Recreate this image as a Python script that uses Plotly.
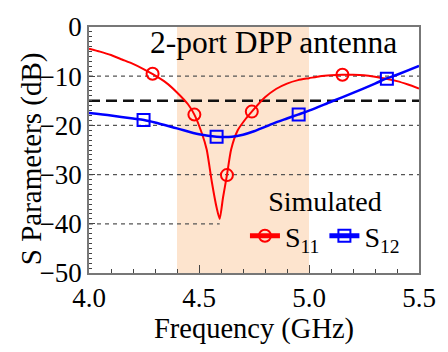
import plotly.graph_objects as go

# ---- data ----
s11_freq = [4.00, 4.05, 4.10, 4.15, 4.20, 4.25, 4.29, 4.35, 4.40, 4.45, 4.479, 4.513, 4.535,
            4.558, 4.58, 4.594, 4.609, 4.627, 4.646, 4.676, 4.71, 4.74, 4.80, 4.85, 4.90,
            4.95, 5.00, 5.05, 5.10, 5.15, 5.20, 5.25, 5.30, 5.35, 5.40, 5.45, 5.50]
s11_db = [-4.4, -5.0, -5.7, -6.6, -7.5, -8.6, -9.6, -11.3, -13.3, -15.7, -17.8, -21.6, -24.9,
          -31.4, -36.7, -39.0, -34.7, -30.1, -24.9, -21.0, -18.8, -17.2, -14.3, -12.6, -11.5,
          -10.8, -10.4, -10.0, -9.8, -9.7, -9.7, -9.8, -10.1, -10.5, -11.0, -11.7, -12.5]
s11_mk_freq = [4.289, 4.479, 4.627, 4.74, 5.152]
s11_mk_db = [-9.5, -17.8, -30.1, -17.2, -9.7]

s12_freq = [4.00, 4.10, 4.20, 4.25, 4.30, 4.40, 4.50, 4.58, 4.65, 4.70, 4.75, 4.80, 4.85,
            4.90, 4.95, 5.00, 5.10, 5.20, 5.30, 5.35, 5.40, 5.50]
s12_db = [-17.5, -18.0, -18.6, -18.9, -19.4, -20.6, -21.8, -22.3, -22.3, -21.9, -21.2, -20.3,
          -19.4, -18.6, -17.8, -17.0, -15.2, -13.4, -11.5, -10.5, -9.7, -7.9]
s12_mk_freq = [4.248, 4.58, 4.953, 5.354]
s12_mk_db = [-18.9, -22.3, -17.8, -10.5]

band = [4.4, 5.0]
grid_levels = [-10, -20, -30]
partial_grid = (-40, 4.594)
threshold = -15
x_ticks = [4.0, 4.5, 5.0, 5.5]
y_ticks = [0, -10, -20, -30, -40, -50]

FONT = "Liberation Serif, Times New Roman, serif"
RED = "#FF0000"
BLUE = "#0000FF"

fig = go.Figure()

fig.add_trace(go.Scatter(x=s11_freq, y=s11_db, mode="lines", line=dict(color=RED, width=2, shape="spline", smoothing=0.6),
                         showlegend=False, hoverinfo="skip"))
fig.add_trace(go.Scatter(x=s12_freq, y=s12_db, mode="lines", line=dict(color=BLUE, width=2.5, shape="spline", smoothing=0.8),
                         showlegend=False, hoverinfo="skip"))
fig.add_trace(go.Scatter(x=s11_mk_freq, y=s11_mk_db, mode="markers",
                         marker=dict(symbol="circle-open", size=12, color=RED, line=dict(width=2)),
                         showlegend=False))
fig.add_trace(go.Scatter(x=s12_mk_freq, y=s12_mk_db, mode="markers",
                         marker=dict(symbol="square-open", size=12, color=BLUE, line=dict(width=2)),
                         showlegend=False))
fig.add_trace(go.Scatter(x=[None], y=[None], mode="lines+markers", name="S<sub>11</sub>",
                         line=dict(color=RED, width=2),
                         marker=dict(symbol="circle-open", size=9, color=RED, line=dict(width=2))))
fig.add_trace(go.Scatter(x=[None], y=[None], mode="lines+markers", name="S<sub>12</sub>",
                         line=dict(color=BLUE, width=2.5),
                         marker=dict(symbol="square-open", size=9, color=BLUE, line=dict(width=2))))

shapes = [dict(type="rect", xref="x", yref="paper", x0=band[0], x1=band[1], y0=0, y1=1,
               fillcolor="#FDE4CE", line=dict(width=0), layer="below")]
for g in grid_levels:
    shapes.append(dict(type="line", xref="paper", yref="y", x0=0, x1=1, y0=g, y1=g,
                       line=dict(color="#555555", width=1.3, dash="4px,4px"), layer="below"))
shapes.append(dict(type="line", xref="x", yref="y", x0=4.0, x1=partial_grid[1], y0=partial_grid[0], y1=partial_grid[0],
                   line=dict(color="#555555", width=1.3, dash="4px,4px"), layer="below"))
shapes.append(dict(type="line", xref="paper", yref="y", x0=0, x1=1, y0=threshold, y1=threshold,
                   line=dict(color="#111111", width=2.5, dash="11px,6px"), layer="below"))

fig.update_layout(
    width=448, height=352,
    margin=dict(l=89, r=20, t=18, b=79),
    paper_bgcolor="white", plot_bgcolor="white",
    font=dict(family=FONT, color="black", size=27),
    shapes=shapes,
    annotations=[
        dict(text="2-port DPP antenna", x=4.840, y=-3.2, xref="x", yref="y",
             showarrow=False, font=dict(size=31.5, family=FONT)),
        dict(text="S Parameters (dB)", x=-0.174, y=0.465, xref="paper", yref="paper",
             xanchor="center", yanchor="middle", textangle=-90,
             showarrow=False, font=dict(size=29, family=FONT)),
    ],
    legend=dict(x=0.715, y=0.40, xanchor="center", yanchor="top", orientation="h",
                bgcolor="rgba(0,0,0,0)", font=dict(size=28, family=FONT),
                title=dict(text="Simulated", side="top center", font=dict(size=28, family=FONT)),
                itemwidth=30, tracegroupgap=0, itemsizing="constant"),
    xaxis=dict(range=[4.0, 5.5], tickvals=x_ticks, ticktext=[f"{v:.1f}" for v in x_ticks],
               ticks="inside", ticklen=8, tickwidth=1.3, tickcolor="#444",
               minor=dict(dtick=0.1, ticks="inside", ticklen=4, tickcolor="#444", tickwidth=1),
               showline=True, linecolor="#777", linewidth=1.5, mirror=True, showgrid=False,
               zeroline=False, tickfont=dict(size=27, family=FONT),
               title=dict(text="Frequency (GHz)", font=dict(size=28.5, family=FONT), standoff=4)),
    yaxis=dict(range=[-50, 0], tickvals=y_ticks, ticks="inside", ticklen=6, tickwidth=1.3, tickcolor="#444",
               minor=dict(dtick=1, ticks="inside", ticklen=3, tickcolor="#444", tickwidth=1),
               showline=True, linecolor="#777", linewidth=1.5, mirror=True, showgrid=False,
               zeroline=False, tickfont=dict(size=27, family=FONT)),
)

fig.write_html("out.html")
